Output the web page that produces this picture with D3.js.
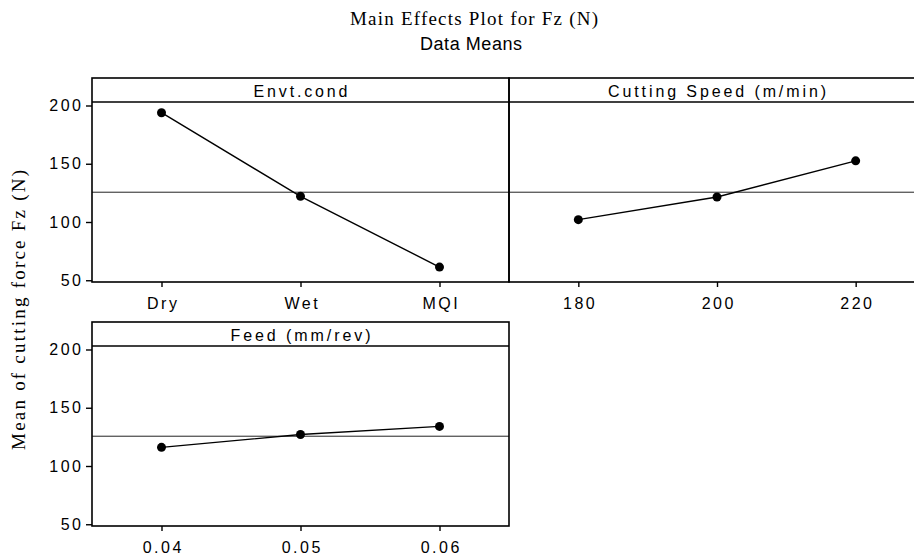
<!DOCTYPE html>
<html>
<head>
<meta charset="utf-8">
<script src="https://cdn.jsdelivr.net/npm/d3@7"></script>
<style>
  html, body { margin: 0; padding: 0; background: #fff; }
  svg { display: block; }
</style>
</head>
<body>
<script>
// Factor levels and the mean response at each level
const envLevels = ["Dry", "Wet", "MQI"];
const envMeans = [193.8, 122, 61.3];

const speedLevels = ["180", "200", "220"];
const speedMeans = [102, 121.5, 152.5];

const feedLevels = ["0.04", "0.05", "0.06"];
const feedMeans = [116, 127, 134];

const panelTitles = ["Envt.cond", "Cutting Speed (m/min)", "Feed (mm/rev)"];
const yTicks = [50, 100, 150, 200];

const titleText = "Main Effects Plot for Fz (N)";
const subtitleText = "Data Means";
const yLabelText = "Mean of cutting force Fz (N)";

const W = 914, H = 559;
const svg = d3.select("body").append("svg").attr("width", W).attr("height", H);

const grandMean = d3.mean(envMeans.concat(speedMeans, feedMeans));

const sans = "'Liberation Sans', Arial, sans-serif";
const serif = "'Liberation Serif', 'Times New Roman', serif";

// Panel layout: header strip above each plotting area
const panels = [
  { title: panelTitles[0], levels: envLevels, means: envMeans, x0: 92, x1: 509, top: 78, head: 24, h: 180, yAxis: true, hw: 94 },
  { title: panelTitles[1], levels: speedLevels, means: speedMeans, x0: 509, x1: 925, top: 78, head: 24, h: 180, yAxis: false, hw: 218 },
  { title: panelTitles[2], levels: feedLevels, means: feedMeans, x0: 92, x1: 509, top: 322, head: 24, h: 180, yAxis: true, hw: 140 }
];

panels.forEach(p => {
  const g = svg.append("g");
  const plotTop = p.top + p.head;
  const plotBottom = plotTop + p.h;

  const x = d3.scalePoint().domain(p.levels).range([p.x0, p.x1]).padding(0.5);
  const y = d3.scaleLinear().domain([48.5, 203]).range([plotBottom, plotTop]);

  // Reference line at the overall mean
  g.append("line")
    .attr("x1", p.x0).attr("x2", p.x1)
    .attr("y1", y(grandMean)).attr("y2", y(grandMean))
    .attr("stroke", "#222").attr("stroke-width", 1);

  // Panel frame and header strip
  g.append("rect")
    .attr("x", p.x0).attr("y", p.top)
    .attr("width", p.x1 - p.x0).attr("height", p.head + p.h)
    .attr("fill", "none").attr("stroke", "#000").attr("stroke-width", 1.6);
  g.append("line")
    .attr("x1", p.x0).attr("x2", p.x1)
    .attr("y1", plotTop).attr("y2", plotTop)
    .attr("stroke", "#000").attr("stroke-width", 1.6);

  g.append("text")
    .attr("x", (p.x0 + p.x1) / 2).attr("y", p.top + 19)
    .attr("text-anchor", "middle")
    .attr("font-family", sans).attr("font-size", 16)
    .attr("textLength", p.hw).attr("lengthAdjust", "spacing")
    .text(p.title);

  // Bottom axis
  const xa = g.append("g")
    .attr("transform", `translate(0,${plotBottom})`)
    .call(d3.axisBottom(x).tickSize(5).tickSizeOuter(0).tickPadding(11));
  xa.select(".domain").remove();
  xa.selectAll("line").attr("stroke", "#000").attr("stroke-width", 1.4);
  xa.selectAll("text")
    .attr("font-family", sans).attr("font-size", 16)
    .attr("fill", "#000")
    .style("letter-spacing", "2.5px")
    .attr("dx", "1.25px");

  // Left axis
  if (p.yAxis) {
    const ya = g.append("g")
      .attr("transform", `translate(${p.x0},0)`)
      .call(d3.axisLeft(y).tickValues(yTicks).tickSize(6).tickSizeOuter(0).tickPadding(5));
    ya.select(".domain").remove();
    ya.selectAll("line").attr("stroke", "#000").attr("stroke-width", 1.4);
    ya.selectAll("text")
      .attr("font-family", sans).attr("font-size", 16)
      .attr("fill", "#000")
      .style("letter-spacing", "2.5px")
      .attr("dx", "2.5px");
  }

  // Mean line and points
  const pts = p.levels.map((l, i) => [x(l), y(p.means[i])]);
  g.append("path")
    .attr("d", d3.line()(pts))
    .attr("fill", "none").attr("stroke", "#000").attr("stroke-width", 1.4);
  g.selectAll("circle.pt").data(pts).join("circle")
    .attr("class", "pt")
    .attr("cx", d => d[0]).attr("cy", d => d[1]).attr("r", 4.5)
    .attr("fill", "#000");
});

// Titles
svg.append("text")
  .attr("x", 474).attr("y", 25)
  .attr("text-anchor", "middle")
  .attr("font-family", serif).attr("font-size", 19)
  .attr("textLength", 248).attr("lengthAdjust", "spacing")
  .text(titleText);

svg.append("text")
  .attr("x", 471).attr("y", 50)
  .attr("text-anchor", "middle")
  .attr("font-family", sans).attr("font-size", 18)
  .attr("textLength", 102).attr("lengthAdjust", "spacing")
  .text(subtitleText);

// Y-axis label
svg.append("text")
  .attr("transform", "translate(25,310) rotate(-90)")
  .attr("text-anchor", "middle")
  .attr("font-family", serif).attr("font-size", 19)
  .attr("textLength", 280).attr("lengthAdjust", "spacing")
  .text(yLabelText);
</script>
</body>
</html>
